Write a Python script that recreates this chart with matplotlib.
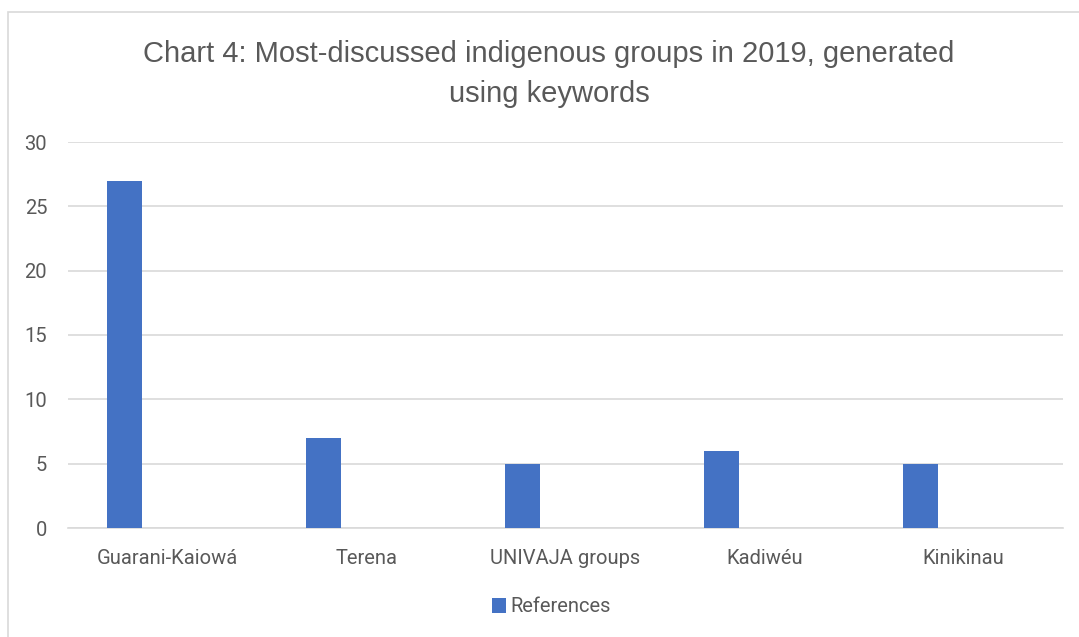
import matplotlib
matplotlib.use("Agg")
import matplotlib.pyplot as plt
from matplotlib.patches import Rectangle
import numpy as np

categories = ["Guarani-Kaiowá", "Terena", "UNIVAJA groups", "Kadiwéu", "Kinikinau"]
references = [27, 7, 5, 6, 5]
yticks = [0, 5, 10, 15, 20, 25, 30]
title = "Chart 4: Most-discussed indigenous groups in 2019, generated\nusing keywords"
series_name = "References"

title_font = "Liberation Sans"
body_font = "Roboto"

TXT = "#595959"
BLUE = "#4472C4"
GRID = "#D9D9D9"

fig = plt.figure(figsize=(10.79, 6.37), dpi=100)
fig.patches.append(Rectangle((8/1079, -0.01), 1.1, 1 - 12/637 + 0.01, transform=fig.transFigure,
                             fill=False, edgecolor=GRID, linewidth=1.2))
ax = fig.add_axes([68/1079, (637-528)/637, (1063-68)/1079, (528-142)/637])

x = np.arange(len(categories))
ax.bar(x - 0.215, references, width=0.175, color=BLUE, label=series_name, zorder=3)
ax.set_xlim(-0.5, len(categories) - 0.5)
ax.set_ylim(0, 30)
ax.set_yticks(yticks)
ax.set_xticks(x)
ax.set_xticklabels(categories, fontsize=14.5, color=TXT, family=body_font)
ax.set_yticklabels([str(v) for v in yticks], fontsize=14.5, color=TXT, family=body_font)
ax.tick_params(axis="both", length=0)
ax.tick_params(axis="x", pad=15)
ax.tick_params(axis="y", pad=15)
ax.grid(axis="y", color=GRID, linewidth=1.2, zorder=0)
for s in ["top", "right", "left"]:
    ax.spines[s].set_visible(False)
ax.spines["bottom"].set_color(GRID)
ax.spines["bottom"].set_linewidth(1.2)

fig.text(549/1079, 1 - 74/637, title, ha="center", va="center", fontsize=21,
         color=TXT, family=title_font, linespacing=1.5)

leg = fig.legend(loc="center", bbox_to_anchor=(551/1079, 1 - 607/637), frameon=False,
                 prop={"family": body_font, "size": 14.5}, handlelength=0.7, handleheight=0.7,
                 handletextpad=0.2)
for t in leg.get_texts():
    t.set_color(TXT)

fig.savefig("out.png", dpi=100)
